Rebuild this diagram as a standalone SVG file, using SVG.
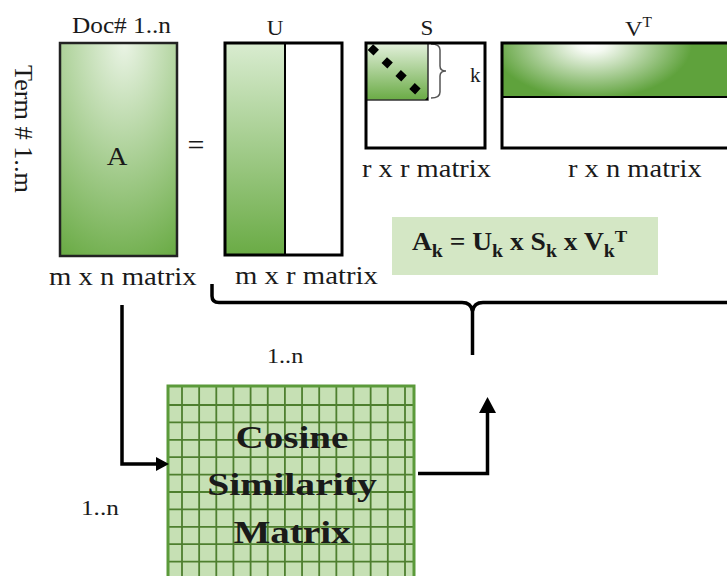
<svg xmlns="http://www.w3.org/2000/svg" width="727" height="576" viewBox="0 0 727 576">
<defs>
<style>
.t{font-family:"Liberation Serif","Times New Roman",serif;fill:#1a1a1a}
.b{font-weight:bold}
.mx{fill:none;stroke:#000;stroke-width:3}
.ln{fill:none;stroke:#000;stroke-width:3.5}
.grid{fill:none;stroke:#4e7f2f;stroke-width:1.8}
</style>
<radialGradient id="gA" cx="0.5" cy="0" r="1.1" fx="0.55" fy="0">
<stop offset="0" stop-color="#eaf4e5"/>
<stop offset="1" stop-color="#6aab45"/>
</radialGradient>
<linearGradient id="gU" x1="0" y1="0" x2="0" y2="1">
<stop offset="0" stop-color="#d9ecd0"/>
<stop offset="1" stop-color="#6aab45"/>
</linearGradient>
<linearGradient id="gS" x1="0" y1="0" x2="0" y2="1">
<stop offset="0" stop-color="#e4f1dd"/>
<stop offset="1" stop-color="#6aab45"/>
</linearGradient>
<radialGradient id="gV" gradientUnits="userSpaceOnUse" cx="592" cy="44" r="100" gradientTransform="translate(592 44) scale(1 0.55) translate(-592 -44)">
<stop offset="0" stop-color="#ffffff"/>
<stop offset="0.15" stop-color="#f4f9f1"/>
<stop offset="1" stop-color="#5fa23c"/>
</radialGradient>
<clipPath id="cS"><rect x="366" y="43" width="62" height="57"/></clipPath>
</defs>
<rect width="727" height="576" fill="#fff"/>

<g id="matrixA">
<rect x="60" y="43" width="117" height="213" fill="url(#gA)" stroke="#222" stroke-width="2.5"/>
<text class="t" font-size="23" transform="translate(72,33) scale(1.1,1)">Doc# 1..n</text>
<text class="t" font-size="25" transform="translate(15,65) rotate(90) scale(1.05,1)">Term # 1..m</text>
<text class="t" font-size="26" transform="translate(117,165) scale(1.1,1)" text-anchor="middle">A</text>
<text class="t" font-size="25" transform="translate(49,285) scale(1.15,1)">m x n matrix</text>
</g>

<g id="equals">
<text class="t" x="196" y="155" font-size="30" text-anchor="middle">=</text>
</g>

<g id="matrixU">
<rect x="225" y="43" width="60" height="212" fill="url(#gU)"/>
<rect x="225" y="43" width="117" height="212" class="mx"/>
<line x1="285" y1="43" x2="285" y2="255" stroke="#000" stroke-width="2"/>
<text class="t" font-size="21" transform="translate(275,35) scale(1.1,1)" text-anchor="middle">U</text>
<text class="t" font-size="25" transform="translate(235,284) scale(1.15,1)">m x r matrix</text>
</g>

<g id="matrixS">
<rect x="366" y="43" width="62" height="57" fill="url(#gS)" stroke="#333" stroke-width="1.5"/>
<line x1="366" y1="43" x2="433.2" y2="105.8" stroke="#000" stroke-width="8" stroke-dasharray="8 11" stroke-dashoffset="13" clip-path="url(#cS)"/>
<path d="M431,44 Q440,44 440,50 L440,66 Q440,71 446,71 Q440,71 440,76 L440,92 Q440,98 431,98" fill="none" stroke="#555" stroke-width="1.5"/>
<rect x="366" y="43" width="119" height="105" class="mx"/>
<text class="t" font-size="21" x="470" y="82">k</text>
<text class="t" font-size="21" transform="translate(427,35) scale(1.1,1)" text-anchor="middle">S</text>
<text class="t" font-size="25" transform="translate(362,177) scale(1.14,1)">r x r matrix</text>
</g>

<g id="matrixV">
<rect x="502" y="43" width="230" height="54" fill="url(#gV)"/>
<line x1="502" y1="97" x2="732" y2="97" stroke="#000" stroke-width="2"/>
<rect x="502" y="43" width="230" height="105" class="mx"/>
<text class="t" font-size="22" transform="translate(625,36) scale(1.1,1)">V<tspan font-size="14" dy="-9">T</tspan></text>
<text class="t" font-size="25" transform="translate(568,177) scale(1.14,1)">r x n matrix</text>
</g>

<g id="formula">
<rect x="392" y="217" width="266" height="58" fill="#d4e7c5"/>
<text class="t b" font-size="25" transform="translate(412,250) scale(1.1,1)" xml:space="preserve">A<tspan font-size="18" dy="7">k</tspan><tspan dy="-7"> = U</tspan><tspan font-size="18" dy="7">k</tspan><tspan dy="-7"> x S</tspan><tspan font-size="18" dy="7">k</tspan><tspan dy="-7"> x V</tspan><tspan font-size="18" dy="7">k</tspan><tspan font-size="17" dy="-15">T</tspan></text>
</g>

<g id="cosine">
<rect x="168" y="386" width="246" height="200" fill="#c6e0b4"/>
<path class="grid" d="M182,386V586M199.15,386V586M216.3,386V586M233.45,386V586M250.6,386V586M267.75,386V586M284.9,386V586M302.05,386V586M319.2,386V586M336.35,386V586M353.5,386V586M370.65,386V586M387.8,386V586M405,386V586M168,405H414M168,422.4H414M168,439.8H414M168,457.2H414M168,474.6H414M168,492H414M168,509.4H414M168,526.8H414M168,544.2H414M168,561.6H414"/>
<rect x="168" y="386" width="246" height="200" fill="none" stroke="#5b9a3a" stroke-width="3"/>
<g class="t b" font-size="32" text-anchor="middle">
<text transform="translate(292,448) scale(1.22,1)">Cosine</text>
<text transform="translate(292,495) scale(1.24,1)">Similarity</text>
<text transform="translate(292,543) scale(1.22,1)">Matrix</text>
</g>
<text class="t" font-size="21" transform="translate(267,363) scale(1.15,1)">1..n</text>
<text class="t" font-size="21" transform="translate(81,515) scale(1.2,1)">1..n</text>
</g>

<g id="connectors">
<path class="ln" d="M212,284 V296 Q212,302.5 219,302.5 H462 Q471,302.5 472.5,311 Q474,302.5 483,302.5 H732"/>
<line class="ln" x1="472.5" y1="308" x2="472.5" y2="355"/>
<path class="ln" d="M122,305 V464 H158"/>
<polygon points="156,457 169,464 156,471" fill="#000"/>
<path class="ln" d="M418,473.5 H487.5 V410"/>
<polygon points="479,413 487.5,397 496,413" fill="#000"/>
</g>
</svg>
